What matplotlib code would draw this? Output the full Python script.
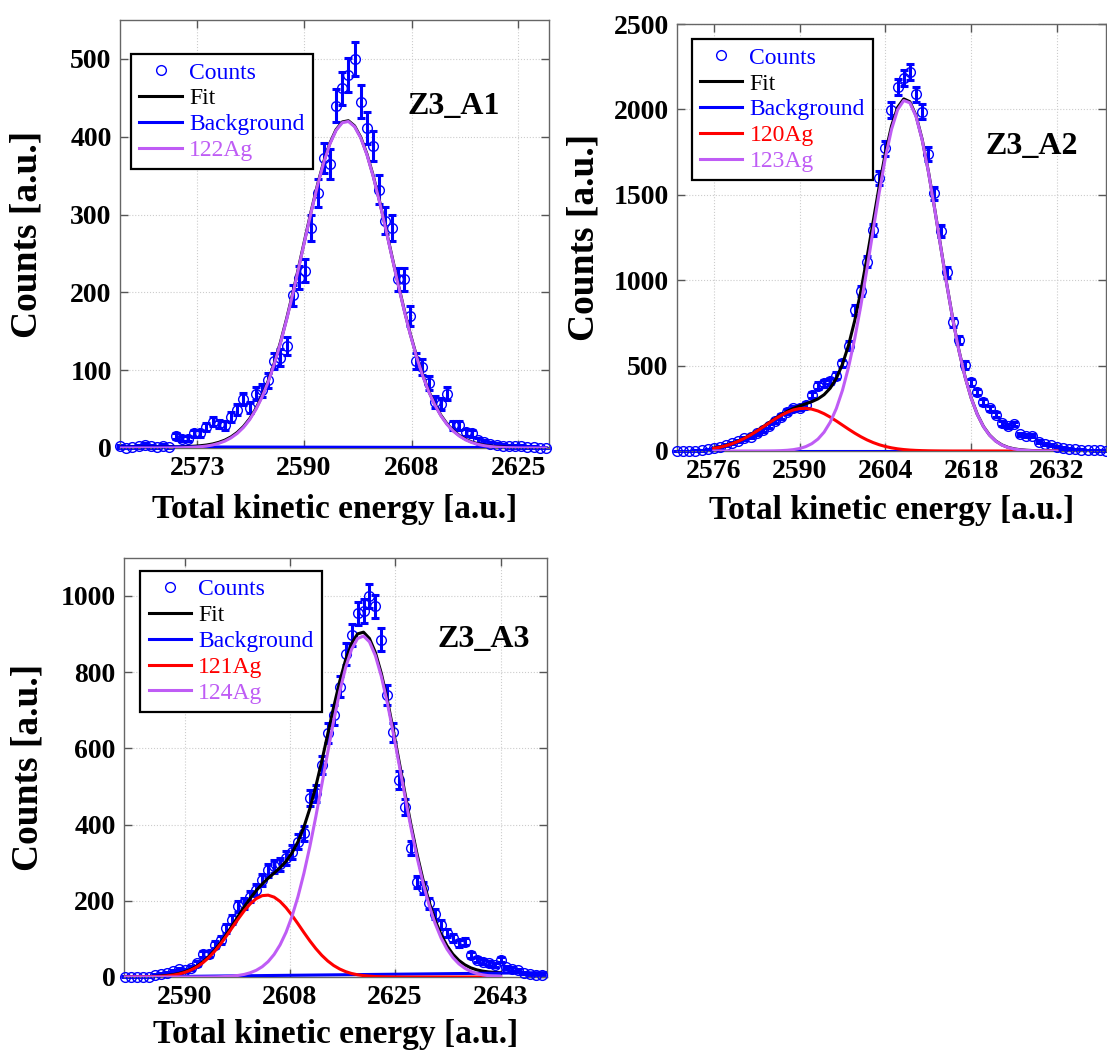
import numpy as np
import matplotlib.pyplot as plt

plt.rcParams['font.family'] = ['Liberation Serif', 'DejaVu Serif']

BLUE = '#0000FF'
RED = '#FF0000'
PURPLE = '#BF5CF5'

# ---- Z3_A1 ----
a1_x = np.arange(2560.5, 2630.0, 1.0)
a1_counts = [2, 0, 1, 2, 4, 2, 1, 3, 1, 15,
             12, 12, 19, 19, 27, 34, 31, 29, 40, 49,
             63, 52, 70, 74, 87, 112, 116, 131, 196, 219,
             228, 283, 328, 373, 365, 440, 462, 479, 500, 445,
             411, 388, 332, 292, 283, 217, 217, 170, 112, 104,
             84, 59, 57, 70, 29, 29, 20, 19, 10, 8,
             5, 4, 3, 2, 2, 2, 1, 1, 0, 0]
a1_122ag = [0, 0, 0, 0, 0, 0, 0, 0, 0.1, 0.1,
            0.3, 0.6, 1.0, 1.6, 2.5, 3.9, 6.0, 8.9, 13.1, 18.8,
            26.4, 36.4, 49.3, 65.3, 84.8, 108.0, 134.9, 165.2, 198.2, 233.3,
            269.1, 304.3, 337.3, 366.7, 390.7, 408.1, 418.0, 419.6, 413.0, 398.5,
            377.0, 349.6, 317.9, 283.3, 247.6, 212.1, 178.1, 146.6, 118.4, 93.7,
            72.7, 55.3, 41.2, 30.1, 21.6, 15.2, 10.4, 7.0, 4.7, 3.0,
            1.9, 1.2, 0.7, 0.4, 0.2, 0.1, 0.1, 0, 0, 0]
a1_bg_x = [2560.5, 2629.5]
a1_bg_y = [1.5, 0.5]

# ---- Z3_A2 ----
a2_x = np.arange(2570, 2641)
a2_counts = [0, 0, 0, 2, 5, 10, 16, 25, 35, 45,
             59, 74, 84, 103, 123, 148, 176, 201, 230, 250,
             254, 269, 328, 382, 396, 410, 441, 513, 617, 825,
             937, 1109, 1294, 1597, 1772, 1997, 2133, 2182, 2221, 2088,
             1987, 1737, 1509, 1288, 1046, 753, 650, 504, 402, 347,
             289, 250, 211, 162, 148, 156, 98, 90, 90, 55,
             41, 35, 25, 20, 14, 10, 8, 6, 5, 3, 2]
a2_fit_x = np.arange(2576, 2633)
a2_120ag = [15.4, 22.2, 31.2, 42.7, 57.0, 74.0, 93.8, 115.9, 139.5, 163.7,
            187.3, 208.8, 226.9, 240.4, 248.2, 249.8, 245.0, 234.3, 218.4, 198.4,
            175.7, 151.6, 127.6, 104.6, 83.6, 65.1, 49.5, 36.6, 26.4, 18.6,
            12.7, 8.5, 5.5, 3.5, 2.2, 1.3, 0.8, 0.4, 0.2, 0,
            0, 0, 0, 0, 0, 0, 0, 0, 0, 0,
            0, 0, 0, 0, 0, 0, 0]
a2_123ag = [0, 0, 0, 0, 0, 0, 0, 0, 0.2, 0.5,
            1.0, 2.2, 4.3, 8.1, 14.6, 25.4, 42.9, 69.9, 110.3, 168.5,
            248.9, 355.7, 492.0, 658.2, 851.8, 1066.3, 1291.8, 1513.9, 1716.5, 1883.0,
            1998.5, 2052.0, 2038.4, 1959.2, 1821.8, 1638.9, 1426.4, 1201.2, 978.6, 771.2,
            588.1, 434.0, 309.7, 213.9, 142.8, 92.5, 57.8, 34.9, 20.5, 11.6,
            6.4, 3.4, 1.7, 0.8, 0.4, 0.2, 0.1]
a2_bg_x = [2570, 2640]
a2_bg_y = [1.0, 1.0]

# ---- Z3_A3 ----
a3_x = np.arange(2580, 2651)
a3_counts = [1, 0, 1, 0, 0, 5, 8, 11, 15, 20,
             18, 23, 36, 60, 60, 84, 97, 128, 150, 185,
             193, 211, 228, 255, 280, 290, 296, 312, 329, 355,
             377, 469, 482, 556, 640, 688, 762, 847, 897, 954,
             960, 1000, 972, 885, 740, 642, 517, 447, 338, 250,
             233, 193, 165, 137, 115, 102, 88, 93, 58, 45,
             40, 36, 32, 45, 25, 21, 18, 10, 7, 5, 5]
a3_fit_x = np.arange(2580, 2644)
a3_121ag = [0.0, 0.1, 0.2, 0.3, 0.6, 1.0, 1.7, 2.9, 4.8, 7.7,
            12.0, 18.0, 26.1, 36.9, 50.5, 67.1, 86.3, 107.8, 130.4, 153.0,
            174.2, 192.2, 205.6, 213.4, 214.7, 209.5, 198.2, 181.8, 161.8, 139.6,
            116.7, 94.7, 74.5, 56.8, 42.0, 30.1, 21.0, 14.1, 9.2, 5.9,
            3.6, 2.2, 1.2, 0.7, 0.4, 0.2, 0.1, 0, 0, 0,
            0, 0, 0, 0, 0, 0, 0, 0, 0, 0,
            0, 0, 0, 0]
a3_124ag = [0, 0, 0, 0, 0, 0, 0, 0, 0, 0,
            0, 0, 0, 0, 0.2, 0.4, 0.8, 1.4, 2.5, 4.2,
            6.9, 11.2, 17.6, 27.0, 40.5, 59.2, 84.4, 117.3, 159.2, 210.7,
            272.1, 342.6, 420.9, 504.4, 589.8, 672.6, 748.3, 812.1, 859.7, 887.9,
            894.6, 879.2, 842.9, 788.3, 719.2, 640.0, 555.7, 470.6, 388.8, 313.3,
            246.4, 189.0, 141.3, 103.2, 73.5, 51.0, 34.6, 22.9, 14.7, 9.3,
            5.7, 3.4, 2.0, 1.1]
a3_bg_x = [2580, 2651]
a3_bg_y = [0.0, 11.5]


def panel(ax, x, counts, fit_x, comps, bg_x, bg_y, xlim, ylim, xticks, xlabels,
          yticks, tag, tag_xy, leg_xy, ylab_x, xlab_y):
    counts = np.asarray(counts, dtype=float)
    eb = ax.errorbar(x, counts, yerr=np.sqrt(counts), fmt='none', ecolor=BLUE,
                     elinewidth=2.2, capsize=3.2, capthick=2.2, zorder=2)
    for art in list(eb.lines[1]) + list(eb.lines[2]):
        art.set_clip_on(False)
    h_cnt, = ax.plot(x, counts, 'o', mfc='none', mec=BLUE, ms=7, mew=1.0,
                     clip_on=False, zorder=3, label='Counts')
    bg_on_fit = np.interp(fit_x, bg_x, bg_y)
    fit = bg_on_fit + np.sum([np.asarray(c[1]) for c in comps], axis=0)
    h_fit, = ax.plot(fit_x, fit, color='black', lw=2.2, zorder=4, label='Fit')
    h_bg, = ax.plot(bg_x, bg_y, color=BLUE, lw=2.2, zorder=4, label='Background')
    handles = [h_cnt, h_fit, h_bg]
    colors = [BLUE, 'black', BLUE]
    for name, vals, col in comps:
        h, = ax.plot(fit_x, vals, color=col, lw=2.2, zorder=5, label=name)
        handles.append(h)
        colors.append(col)

    ax.set_xlim(*xlim)
    ax.set_ylim(*ylim)
    ax.set_xticks(xticks)
    ax.set_xticklabels(xlabels)
    ax.set_yticks(yticks)
    ax.tick_params(direction='in', top=True, right=True, length=6, width=1,
                   color='#555555', labelsize=20, pad=6)
    for lab in ax.get_xticklabels() + ax.get_yticklabels():
        lab.set_fontweight('bold')
    for sp in ax.spines.values():
        sp.set_color('#666666')
        sp.set_linewidth(1.0)
    ax.grid(True, linestyle=':', color='#cccccc', linewidth=0.8)
    ax.set_axisbelow(True)

    ax.set_xlabel('Total kinetic energy [a.u.]', fontsize=24, fontweight='bold')
    ax.set_ylabel('Counts [a.u.]', fontsize=27, fontweight='bold')
    ax.xaxis.set_label_coords(0.5, xlab_y)
    ax.yaxis.set_label_coords(ylab_x, 0.5)

    ax.text(tag_xy[0], tag_xy[1], tag, transform=ax.transAxes, fontsize=23,
            fontweight='bold', ha='left', va='center')

    leg = ax.legend(handles=handles, loc='upper left', bbox_to_anchor=leg_xy,
                    borderaxespad=0, fontsize=17, frameon=True, fancybox=False,
                    framealpha=1, edgecolor='black', handlelength=1.8,
                    handletextpad=0.3, labelspacing=0.18, borderpad=0.35,
                    numpoints=1)
    leg.get_frame().set_linewidth(1.6)
    for txt, col in zip(leg.get_texts(), colors):
        txt.set_color(col)


fig = plt.figure(figsize=(11.07, 10.57), dpi=100)
W, H = 1107, 1057

ax1 = fig.add_axes([120 / W, 1 - 448 / H, 429 / W, 428 / H])
panel(ax1, a1_x, a1_counts, a1_x, [('122Ag', a1_122ag, PURPLE)],
      a1_bg_x, a1_bg_y, (2560.5, 2630), (0, 550),
      [2573.0, 2590.3, 2607.8, 2625.0], ['2573', '2590', '2608', '2625'],
      range(0, 501, 100), 'Z3_A1', (0.671, 0.797), (0.026, 0.921),
      -0.175, -0.107)

ax2 = fig.add_axes([677 / W, 1 - 451 / H, 429 / W, 427 / H])
panel(ax2, a2_x, a2_counts, a2_fit_x,
      [('120Ag', a2_120ag, RED), ('123Ag', a2_123ag, PURPLE)],
      a2_bg_x, a2_bg_y, (2570, 2640), (0, 2500),
      [2576, 2590, 2604, 2618, 2632], ['2576', '2590', '2604', '2618', '2632'],
      range(0, 2501, 500), 'Z3_A2', (0.718, 0.712), (0.034, 0.965),
      -0.175, -0.103)

ax3 = fig.add_axes([124 / W, 1 - 977 / H, 423 / W, 419.3 / H])
panel(ax3, a3_x, a3_counts, a3_fit_x,
      [('121Ag', a3_121ag, RED), ('124Ag', a3_124ag, PURPLE)],
      a3_bg_x, a3_bg_y, (2579.8, 2650.8), (0, 1100),
      [2590.0, 2607.6, 2625.3, 2643.0], ['2590', '2608', '2625', '2643'],
      range(0, 1001, 200), 'Z3_A3', (0.742, 0.804), (0.039, 0.969),
      -0.185, -0.100)

fig.savefig('out.png', dpi=100)
